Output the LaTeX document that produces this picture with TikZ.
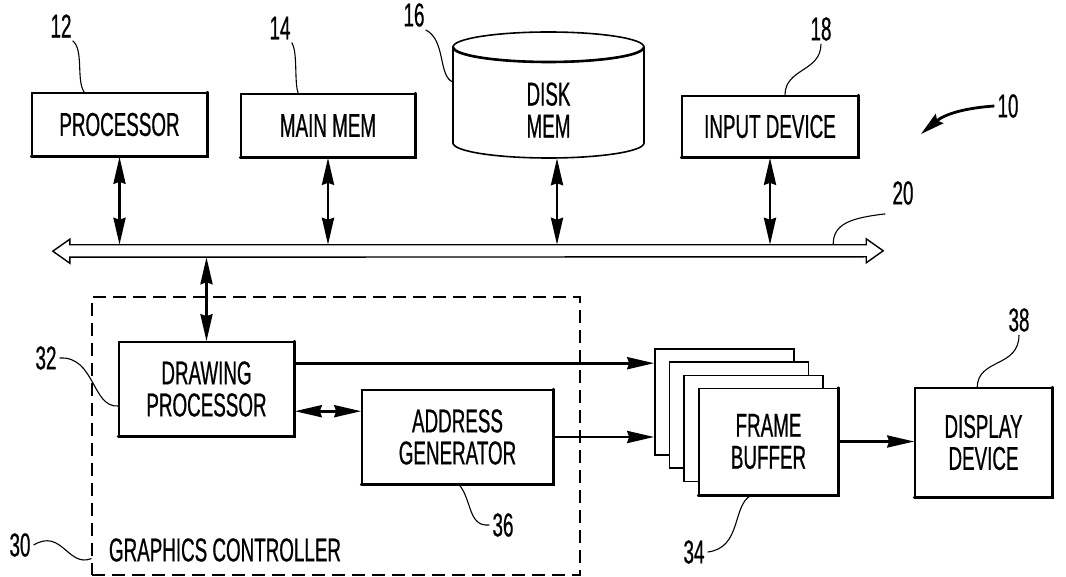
\documentclass[tikz,border=0pt]{standalone}
\usepackage{fontspec}
\setmainfont{Liberation Sans}[FakeStretch=0.57,FakeBold=0.6]
\usetikzlibrary{arrows.meta,calc}
\tikzset{
  box/.style={draw, line width=1.6pt, fill=white, align=center, inner sep=0pt, font=\fontsize{33}{32}\selectfont},
  lbl/.style={inner sep=3pt, font=\fontsize{33}{32}\selectfont},
  lead/.style={line width=1.1pt},
  tipp/.tip={Stealth[length=27pt,width=12pt,inset=2pt]},
  dbl/.style={line width=2.8pt, tipp-tipp},
  sgl/.style={line width=2.8pt, -tipp},
  heavy/.style={line width=2.8pt, line cap=round},
}
\newcommand{\heavyedge}[1]{\draw[heavy] (#1.north east) -- (#1.south east) -- (#1.south west);}
\begin{document}
\begin{tikzpicture}[x=1pt,y=-1pt]
\useasboundingbox (0,0) rectangle (1066,577);
% top boxes
\node[box, minimum width=175, minimum height=63] (proc) at (119.5,124.5) {PROCESSOR};
\node[box, minimum width=174, minimum height=63] (mainmem) at (328,125.5) {MAIN MEM};
\node[box, minimum width=176, minimum height=61] (input) at (770,126.5) {INPUT DEVICE};
\heavyedge{proc}\heavyedge{mainmem}\heavyedge{input}
% disk
\draw[line width=1.6pt] (453,47) -- (453,143) arc[start angle=180,end angle=0,x radius=95.5,y radius=15] -- (644,47);
\draw[line width=1.6pt] (548.5,47) ellipse[x radius=95.5,y radius=15];
\draw[line width=2.6pt] (453,47) arc[start angle=180,end angle=0,x radius=95.5,y radius=15];
\node[inner sep=0pt, minimum width=191, minimum height=126] (disk) at (548.5,95) {};
\node[align=center, inner sep=0pt, font=\fontsize{33}{32}\selectfont] (disktext) at (548.5,110) {DISK\\MEM};
% bus
\node[inner sep=0pt, minimum width=796, minimum height=12] (bus) at (468,251) {};
\draw[line width=1.4pt, line join=miter] (bus.north west) -- (bus.north east) -- ++(0,-6) -- ++(17,12) -- ++(-17,12) -- ++(0,-6) -- (bus.south west) -- ++(0,6) -- ++(-17,-12) -- ++(17,-12) -- cycle;
\draw[dbl] (proc.south) -- (proc.south |- bus.north);
\draw[dbl] (mainmem.south) -- (mainmem.south |- bus.north);
\draw[dbl] ($(disk.south)+(8.5,0)$) -- ($(disk.south |- bus.north)+(8.5,0)$);
\draw[dbl] (input.south) -- (input.south |- bus.north);
% graphics controller
\node[draw, dash pattern=on 13pt off 7pt, line width=1.1pt, minimum width=488, minimum height=278, inner sep=0pt] (gc) at (336,436) {};
\node[lbl] (gctext) at (225,550) {GRAPHICS CONTROLLER};
\node[box, minimum width=175, minimum height=94] (dp) at (206.5,389) {DRAWING\\PROCESSOR};
\node[box, minimum width=191, minimum height=94] (ag) at (457.5,437) {ADDRESS\\GENERATOR};
\heavyedge{dp}\heavyedge{ag}
\draw[dbl] (bus.south -| dp.north) -- (dp.north);
% frame buffers
\node[box, minimum width=139, minimum height=106] (fb0) at (724.5,402) {};
\node[box, minimum width=139, minimum height=106] (fb1) at (739,415) {};
\node[box, minimum width=139, minimum height=106] (fb2) at (753.5,428.5) {};
\node[box, minimum width=139, minimum height=106] (fb3) at (768.5,441.5) {FRAME\\BUFFER};
\heavyedge{fb3}
\node[box, minimum width=137, minimum height=109] (disp) at (983.5,442.5) {DISPLAY\\DEVICE};
\heavyedge{disp}
% connectors
\coordinate (dpo) at ([yshift=-22pt]dp.north east);
\draw[sgl] (dpo) -- (dpo -| fb0.west);
\draw[sgl] (ag.east) -- (ag.east -| fb0.west);
\coordinate (agi) at ([yshift=-22pt]ag.north west);
\draw[dbl] (agi -| dp.east) -- (agi);
\draw[sgl] (fb3.east) -- (fb3.east -| disp.west);
% labels
\node[lbl] (l12) at (61,26) {12};
\node[lbl] (l14) at (280,28) {14};
\node[lbl] (l16) at (414,15) {16};
\node[lbl] (l18) at (821,29) {18};
\node[lbl] (l10) at (1008,106) {10};
\node[lbl] (l20) at (903,193) {20};
\node[lbl] (l32) at (46,358) {32};
\node[lbl] (l30) at (20,545) {30};
\node[lbl] (l36) at (503,525) {36};
\node[lbl] (l34) at (694,552) {34};
\node[lbl] (l38) at (1019,320) {38};
\draw[lead] ($(l12.south east)+(-2,0)$) .. controls (84,50) and (76,80) .. ($(proc.north west)+(53,0)$);
\draw[lead] ($(l14.south east)+(-2,0)$) .. controls (298,52) and (294,82) .. ($(mainmem.north west)+(58,0)$);
\draw[lead] ($(l16.south east)+(-2,0)$) .. controls (446,40) and (438,76) .. ($(disk.west)+(0,-13)$);
\draw[lead] (l18.south) .. controls (821,72) and (785,68) .. ($(input.north)+(15,0)$);
\draw[lead] ($(l20.south west)+(-4,6)$) .. controls (850,218) and (833,224) .. ($(bus.north east)+(-33,0)$);
\draw[lead] (l32.east) .. controls (95,356) and (92,408) .. ($(dp.west)+(0,17)$);
\draw[lead] (l30.east) .. controls (62,528) and (68,568) .. ($(gc.south west)+(0,-17)$);
\draw[lead] (l36.west) .. controls (468,527) and (472,500) .. ($(ag.south west)+(98,0)$);
\draw[lead] (l34.east) .. controls (742,548) and (732,505) .. ($(fb3.south west)+(53,0)$);
\draw[lead] (l38.south) .. controls (1019,368) and (978,358) .. ($(disp.north west)+(63,0)$);
\draw[line width=2.8pt, -{Stealth[length=24pt,width=12pt,inset=3pt]}] (l10.west) .. controls (965,108) and (945,114) .. (921,134);
\end{tikzpicture}
\end{document}
